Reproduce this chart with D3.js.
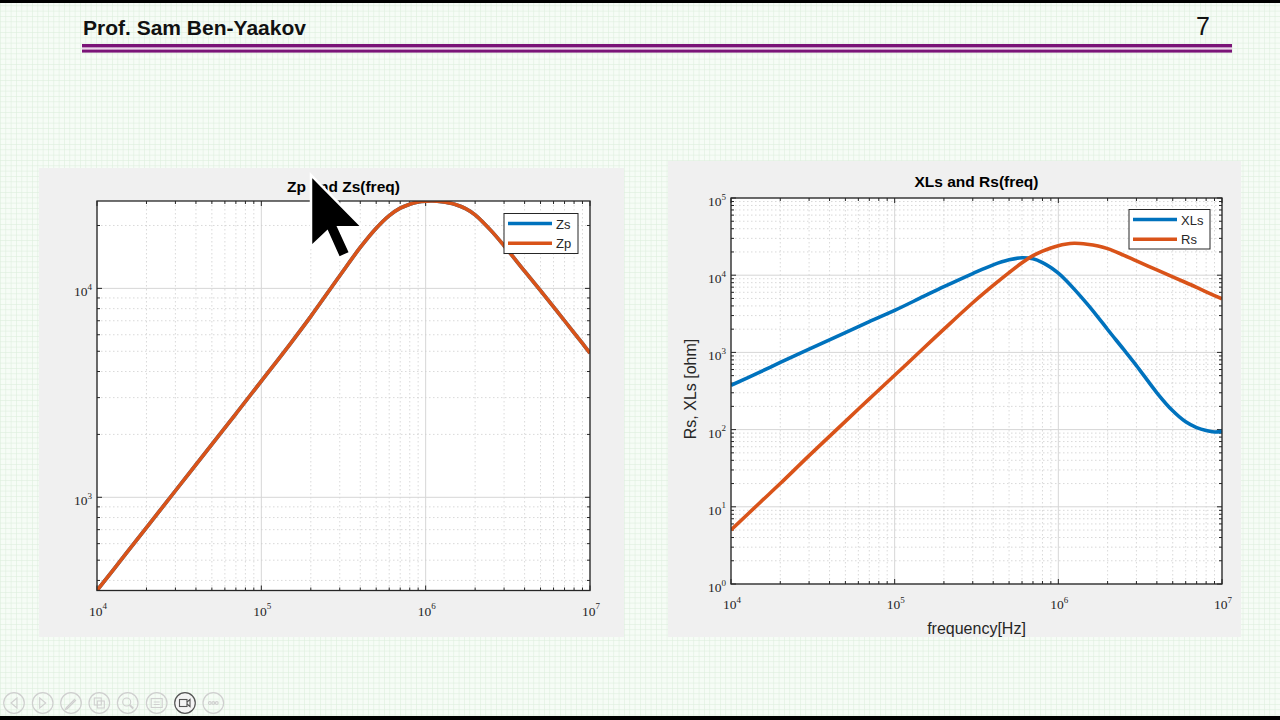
<!DOCTYPE html>
<html><head><meta charset="utf-8">
<script src="https://cdn.jsdelivr.net/npm/d3@7"></script>
<style>body{margin:0;overflow:hidden;background:#fff}svg{display:block}</style>
</head><body>
<svg id="c" width="1280" height="720"></svg>
<script>
// ---------- data ----------
const freq    = [1e4, 1.5e4, 2e4, 3e4, 5e4, 7e4, 1e5, 1.5e5, 2e5, 3e5, 4e5, 5e5, 6e5, 7e5, 8e5, 9e5, 1e6, 1.1e6, 1.25e6, 1.5e6, 1.75e6, 2e6, 2.5e6, 3e6, 4e6, 5e6, 6e6, 7e6, 8e6, 9e6, 1e7];
const zpVals  = [358, 537, 716, 1075, 1790, 2510, 3600, 5430, 7350, 11500, 15700, 19400, 22300, 24200, 25300, 25900, 26150, 26200, 26000, 25300, 24100, 22500, 18900, 16000, 12100, 9750, 8150, 7000, 6130, 5450, 4900];
const zsVals  = [358, 537, 716, 1075, 1790, 2510, 3600, 5430, 7350, 11500, 15700, 19400, 22300, 24200, 25300, 25900, 26150, 26200, 26000, 25300, 24100, 22500, 18900, 16000, 12100, 9750, 8150, 7000, 6130, 5450, 4900];
const xlsVals = [375, 555, 740, 1100, 1800, 2500, 3500, 5300, 7100, 10500, 13600, 15800, 16850, 16300, 14600, 12600, 10600, 8800, 6600, 4250, 2850, 1980, 1100, 675, 300, 175, 126, 106, 97, 93, 95];
const rsVals  = [5.0, 11.3, 20, 46, 128, 250, 505, 1130, 2000, 4400, 7380, 10800, 14500, 17900, 20500, 22500, 24100, 25200, 25900, 25200, 23900, 22100, 18200, 15300, 11700, 9500, 8050, 6950, 6100, 5450, 4950];

const xTickExps      = ['4', '5', '6', '7'];
const leftYTickExps  = ['3', '4'];
const rightYTickExps = ['0', '1', '2', '3', '4', '5'];

const leftSeries  = [{name: 'Zs', color: '#0072BD', vals: zsVals}, {name: 'Zp', color: '#D95319', vals: zpVals}];
const rightSeries = [{name: 'XLs', color: '#0072BD', vals: xlsVals}, {name: 'Rs', color: '#D95319', vals: rsVals}];

// ---------- page ----------
const svg = d3.select('#c');
const defs = svg.append('defs');
const pat = defs.append('pattern').attr('id', 'bg').attr('patternUnits', 'userSpaceOnUse')
  .attr('width', 5.333).attr('height', 5.333);
pat.append('rect').attr('width', 5.333).attr('height', 5.333).attr('fill', '#f6fcf6');
pat.append('path').attr('d', 'M0 0.3H5.333M0.3 0V5.333').attr('stroke', '#dcefdc').attr('stroke-width', 0.7);
svg.append('rect').attr('width', 1280).attr('height', 720).attr('fill', 'url(#bg)');
svg.append('rect').attr('x', 0).attr('y', 0).attr('width', 1280).attr('height', 3).attr('fill', '#000');
svg.append('rect').attr('x', 0).attr('y', 716).attr('width', 1280).attr('height', 4).attr('fill', '#000');

// header
svg.append('text').attr('x', 83).attr('y', 35).attr('font-family', 'Liberation Sans, Arial, sans-serif')
  .attr('font-weight', 'bold').attr('font-size', 21).attr('fill', '#111').text('Prof. Sam Ben-Yaakov');
svg.append('text').attr('x', 1196).attr('y', 35).attr('font-family', 'Liberation Sans, Arial, sans-serif')
  .attr('font-size', 25).attr('fill', '#111').text('7');
svg.append('rect').attr('x', 82).attr('y', 44).attr('width', 1150).attr('height', 3.6).attr('fill', '#7a1477');
svg.append('rect').attr('x', 82).attr('y', 47.6).attr('width', 1150).attr('height', 2).attr('fill', '#ecd4ea');
svg.append('rect').attr('x', 82).attr('y', 49.6).attr('width', 1150).attr('height', 3).attr('fill', '#7a1477');

// panels
svg.append('rect').attr('x', 39).attr('y', 168).attr('width', 585).attr('height', 469).attr('fill', '#f0f0f0');
svg.append('rect').attr('x', 668).attr('y', 161).attr('width', 573).attr('height', 476).attr('fill', '#f0f0f0');

function drawPlot(cfg) {
  const g = svg.append('g');
  const b = cfg.box;
  const x = d3.scaleLog().domain([freq[0], freq[freq.length - 1]]).range([b.x0, b.x1]);
  const y = d3.scaleLog().domain(cfg.yDomain).range([b.y1, b.y0]);
  g.append('rect').attr('x', b.x0).attr('y', b.y0).attr('width', b.x1 - b.x0).attr('height', b.y1 - b.y0).attr('fill', '#fff');

  const isMajor = v => Math.abs(Math.log10(v) - Math.round(Math.log10(v))) < 1e-9;
  const xt = x.ticks(), yt = y.ticks();
  // grid
  xt.forEach(v => {
    const px = x(v);
    g.append('line').attr('x1', px).attr('x2', px).attr('y1', b.y0).attr('y2', b.y1)
      .attr('stroke', isMajor(v) ? '#d6d6d6' : '#cfcfcf').attr('stroke-width', isMajor(v) ? 1 : 0.8)
      .attr('stroke-dasharray', isMajor(v) ? null : '1.5,2.5');
  });
  yt.forEach(v => {
    const py = y(v);
    g.append('line').attr('y1', py).attr('y2', py).attr('x1', b.x0).attr('x2', b.x1)
      .attr('stroke', isMajor(v) ? '#d6d6d6' : '#cfcfcf').attr('stroke-width', isMajor(v) ? 1 : 0.8)
      .attr('stroke-dasharray', isMajor(v) ? null : '1.5,2.5');
  });
  // ticks on all four sides (inward)
  xt.forEach(v => {
    const px = x(v), L = isMajor(v) ? 5 : 3;
    g.append('line').attr('x1', px).attr('x2', px).attr('y1', b.y1).attr('y2', b.y1 - L).attr('stroke', '#262626');
    g.append('line').attr('x1', px).attr('x2', px).attr('y1', b.y0).attr('y2', b.y0 + L).attr('stroke', '#262626');
  });
  yt.forEach(v => {
    const py = y(v), L = isMajor(v) ? 5 : 3;
    g.append('line').attr('y1', py).attr('y2', py).attr('x1', b.x0).attr('x2', b.x0 + L).attr('stroke', '#262626');
    g.append('line').attr('y1', py).attr('y2', py).attr('x1', b.x1).attr('x2', b.x1 - L).attr('stroke', '#262626');
  });

  // lines
  const cid = 'clip' + cfg.id;
  defs.append('clipPath').attr('id', cid).append('rect').attr('x', b.x0).attr('y', b.y0)
    .attr('width', b.x1 - b.x0).attr('height', b.y1 - b.y0);
  const line = d3.line().x((d, i) => x(freq[i])).y(d => y(d)).curve(d3.curveCatmullRom.alpha(0.5));
  cfg.series.forEach(s => {
    g.append('path').attr('d', line(s.vals)).attr('fill', 'none').attr('stroke', s.color)
      .attr('stroke-width', 3.6).attr('stroke-linejoin', 'round').attr('clip-path', 'url(#' + cid + ')');
  });
  // box
  g.append('rect').attr('x', b.x0).attr('y', b.y0).attr('width', b.x1 - b.x0).attr('height', b.y1 - b.y0)
    .attr('fill', 'none').attr('stroke', '#262626').attr('stroke-width', 1.3);

  // tick labels
  const lab = (px, py, exp, anchor) => {
    const t = g.append('text').attr('x', px).attr('y', py).attr('text-anchor', anchor)
      .attr('font-family', 'Liberation Serif, DejaVu Serif, serif').attr('font-size', 13.5).attr('fill', '#262626');
    t.append('tspan').text('10');
    t.append('tspan').attr('dy', -6.5).attr('font-size', 9).text(exp);
  };
  xTickExps.forEach(e => lab(x(Math.pow(10, +e)) + 1, b.y1 + 25, e, 'middle'));
  cfg.yExps.forEach(e => lab(b.x0 - 5, y(Math.pow(10, +e)) + 8, e, 'end'));

  // title
  g.append('text').attr('x', (b.x0 + b.x1) / 2).attr('y', cfg.titleY).attr('text-anchor', 'middle')
    .attr('font-family', 'Liberation Sans, Arial, sans-serif').attr('font-weight', 'bold').attr('font-size', 15.5)
    .attr('fill', '#000').text(cfg.title);

  // legend
  const lg = cfg.legend;
  g.append('rect').attr('x', lg.x).attr('y', lg.y).attr('width', lg.w).attr('height', lg.h)
    .attr('fill', '#fff').attr('stroke', '#262626').attr('stroke-width', 1);
  cfg.series.forEach((s, i) => {
    const ly = lg.y + 10 + i * 19.7;
    g.append('line').attr('x1', lg.x + 4).attr('x2', lg.x + 48).attr('y1', ly).attr('y2', ly)
      .attr('stroke', s.color).attr('stroke-width', 3.6);
    g.append('text').attr('x', lg.x + 52).attr('y', ly + 5).attr('font-family', 'Liberation Sans, Arial, sans-serif')
      .attr('font-size', 13).attr('fill', '#262626').text(s.name);
  });
  return {g, x, y};
}

drawPlot({
  id: 'L', box: {x0: 97, x1: 590, y0: 201, y1: 590.5}, yDomain: d3.extent(zpVals),
  series: leftSeries, yExps: leftYTickExps, title: 'Zp and Zs(freq)', titleY: 192,
  legend: {x: 504, y: 213.5, w: 74, h: 40}
});
drawPlot({
  id: 'R', box: {x0: 731, x1: 1222, y0: 198, y1: 584}, yDomain: [1, 1e5],
  series: rightSeries, yExps: rightYTickExps, title: 'XLs and Rs(freq)', titleY: 187,
  legend: {x: 1129, y: 209.5, w: 81, h: 39.5}
});

// axis labels (right plot)
svg.append('text').attr('x', 976.5).attr('y', 634).attr('text-anchor', 'middle')
  .attr('font-family', 'Liberation Sans, Arial, sans-serif').attr('font-size', 16).attr('fill', '#262626').text('frequency[Hz]');
svg.append('text').attr('transform', 'translate(696,389) rotate(-90)').attr('text-anchor', 'middle')
  .attr('font-family', 'Liberation Sans, Arial, sans-serif').attr('font-size', 16).attr('fill', '#262626').text('Rs, XLs [ohm]');

// mouse cursor overlay
const cur = [[0, 0], [0, 16], [3.6, 12.6], [6.2, 18.4], [8.7, 17.3], [6.1, 11.6], [11.4, 11.6]];
svg.append('path').attr('d', 'M' + cur.map(p => [311 + p[0] * 4.5, 175 + p[1] * 4.5].join(',')).join('L') + 'Z')
  .attr('fill', '#000').attr('stroke', '#fff').attr('stroke-width', 2.5).attr('stroke-linejoin', 'miter');

// bottom toolbar
const tb = svg.append('g');
const tbX = [14, 42.7, 71, 99.3, 127.7, 156.7, 185, 213.3];
tbX.forEach((cx, i) => {
  const col = i === 6 ? '#555' : '#cfcfcf';
  tb.append('circle').attr('cx', cx).attr('cy', 703).attr('r', 10.3).attr('fill', i === 6 ? '#f4f4f4' : 'none')
    .attr('stroke', col).attr('stroke-width', 1.2);
  const s = tb.append('g').attr('transform', `translate(${cx},703)`).attr('fill', 'none').attr('stroke', col).attr('stroke-width', 1.1);
  if (i === 0) s.append('path').attr('d', 'M3,-5L-3,0L3,5Z');
  if (i === 1) s.append('path').attr('d', 'M-3,-5L3,0L-3,5Z');
  if (i === 2) s.append('path').attr('d', 'M-5,5L4,-4M-4,6L5,-3M-5,5L-5.5,6.5L-4,6');
  if (i === 3) { s.append('rect').attr('x', -5).attr('y', -5).attr('width', 7).attr('height', 7); s.append('rect').attr('x', -2).attr('y', -2).attr('width', 7).attr('height', 7); }
  if (i === 4) { s.append('circle').attr('cx', -1).attr('cy', -1).attr('r', 4); s.append('path').attr('d', 'M2,2L5.5,5.5').attr('stroke-width', 2); }
  if (i === 5) { s.append('rect').attr('x', -5.5).attr('y', -4.5).attr('width', 11).attr('height', 9); s.append('path').attr('d', 'M-3,-1H3M-3,1.5H3'); }
  if (i === 6) { s.append('rect').attr('x', -5.5).attr('y', -3.5).attr('width', 7.5).attr('height', 7); s.append('path').attr('d', 'M2,-1L5,-3.5V3.5L2,1'); }
  if (i === 7) { [-3.5, 0, 3.5].forEach(dx => s.append('circle').attr('cx', dx).attr('cy', 0).attr('r', 1.4)); }
});
</script>
</body></html>
